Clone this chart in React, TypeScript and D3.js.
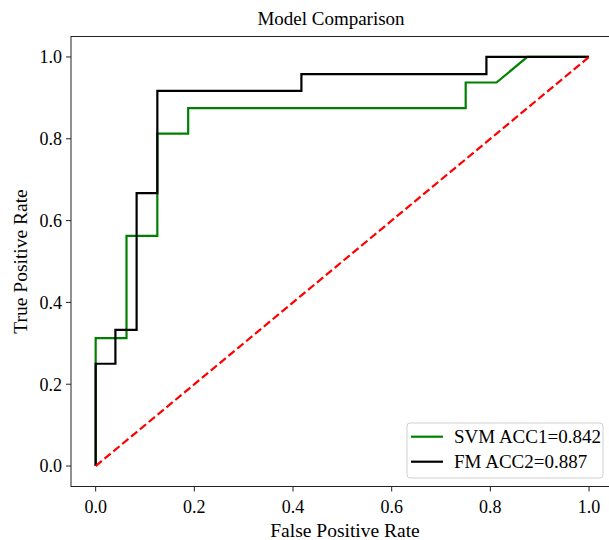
import * as React from "react";
import * as d3 from "d3";

// ROC points
const svmFpr = [0, 0, 0.0625, 0.0625, 0.125, 0.125, 0.1875, 0.1875, 0.75, 0.75, 0.8125, 0.875, 1];
const svmTpr = [0, 0.3125, 0.3125, 0.5625, 0.5625, 0.8125, 0.8125, 0.875, 0.875, 0.9375, 0.9375, 1, 1];
const fmFpr = [0, 0, 0.04, 0.04, 0.083, 0.083, 0.125, 0.125, 0.417, 0.417, 0.792, 0.792, 1];
const fmTpr = [0, 0.25, 0.25, 0.333, 0.333, 0.667, 0.667, 0.917, 0.917, 0.958, 0.958, 1, 1];
const chanceLine = [0, 1];
const tickValues = [0, 0.2, 0.4, 0.6, 0.8, 1.0];
const legendLabels = ["SVM ACC1=0.842", "FM ACC2=0.887"];

const FONT = "'Liberation Serif', 'Times New Roman', serif";

export default function App() {
  const ref = React.useRef<SVGSVGElement>(null);

  React.useEffect(() => {
    const svg = d3.select(ref.current);
    svg.selectAll("*").remove();

    const x = d3.scaleLinear().domain([-0.05, 1.05]).range([71, 613.7]);
    const y = d3.scaleLinear().domain([-0.05, 1.05]).range([486.5, 36.5]);

    const line = d3.line<[number, number]>()
      .x(d => x(d[0]))
      .y(d => y(d[1]));

    // frame
    svg.append("rect")
      .attr("x", x(-0.05))
      .attr("y", y(1.05))
      .attr("width", x(1.05) - x(-0.05))
      .attr("height", y(-0.05) - y(1.05))
      .attr("fill", "none")
      .attr("stroke", "#222")
      .attr("stroke-width", 1);

    // x ticks
    const xt = svg.append("g");
    tickValues.forEach(v => {
      xt.append("line")
        .attr("x1", x(v)).attr("x2", x(v))
        .attr("y1", y(-0.05)).attr("y2", y(-0.05) + 5)
        .attr("stroke", "#222");
      xt.append("text")
        .attr("x", x(v))
        .attr("y", 513)
        .attr("text-anchor", "middle")
        .attr("font-family", FONT)
        .attr("font-size", 18)
        .text(d3.format(".1f")(v));
    });

    // y ticks
    const yt = svg.append("g");
    tickValues.forEach(v => {
      yt.append("line")
        .attr("x1", x(-0.05) - 5).attr("x2", x(-0.05))
        .attr("y1", y(v)).attr("y2", y(v))
        .attr("stroke", "#222");
      yt.append("text")
        .attr("x", 62)
        .attr("y", y(v))
        .attr("dy", "0.35em")
        .attr("text-anchor", "end")
        .attr("font-family", FONT)
        .attr("font-size", 18)
        .text(d3.format(".1f")(v));
    });

    // curves
    svg.append("path")
      .attr("d", line(d3.zip(svmFpr, svmTpr) as [number, number][]))
      .attr("fill", "none")
      .attr("stroke", "#008000")
      .attr("stroke-width", 2.2);
    svg.append("path")
      .attr("d", line(d3.zip(fmFpr, fmTpr) as [number, number][]))
      .attr("fill", "none")
      .attr("stroke", "#000")
      .attr("stroke-width", 2.2);
    svg.append("path")
      .attr("d", line(d3.zip(chanceLine, chanceLine) as [number, number][]))
      .attr("fill", "none")
      .attr("stroke", "#ff0000")
      .attr("stroke-width", 2.2)
      .attr("stroke-dasharray", "8,3.5");

    // labels
    svg.append("text")
      .attr("x", 331)
      .attr("y", 25)
      .attr("text-anchor", "middle")
      .attr("font-family", FONT)
      .attr("font-size", 19)
      .text("Model Comparison");
    svg.append("text")
      .attr("x", 345)
      .attr("y", 537)
      .attr("text-anchor", "middle")
      .attr("font-family", FONT)
      .attr("font-size", 19.5)
      .text("False Positive Rate");
    svg.append("text")
      .attr("transform", `translate(27,${(y(-0.05) + y(1.05)) / 2}) rotate(-90)`)
      .attr("text-anchor", "middle")
      .attr("font-family", FONT)
      .attr("font-size", 19.5)
      .text("True Positive Rate");

    // legend
    const lg = svg.append("g");
    lg.append("rect")
      .attr("x", 407).attr("y", 423)
      .attr("width", 196).attr("height", 55)
      .attr("rx", 3)
      .attr("fill", "#fff")
      .attr("fill-opacity", 0.8)
      .attr("stroke", "#d0d0d0");
    const colors = ["#008000", "#000"];
    legendLabels.forEach((t, i) => {
      const cy = 436.7 + i * 25;
      lg.append("line")
        .attr("x1", 411).attr("x2", 443)
        .attr("y1", cy).attr("y2", cy)
        .attr("stroke", colors[i])
        .attr("stroke-width", 2.2);
      lg.append("text")
        .attr("x", 454)
        .attr("y", cy)
        .attr("dy", "0.35em")
        .attr("font-family", FONT)
        .attr("font-size", 19)
        .text(t);
    });
  }, []);

  return (
    <svg ref={ref} width={609} height={540}
      style={{ position: "absolute", left: 0, top: 0, background: "#fff" }} />
  );
}
